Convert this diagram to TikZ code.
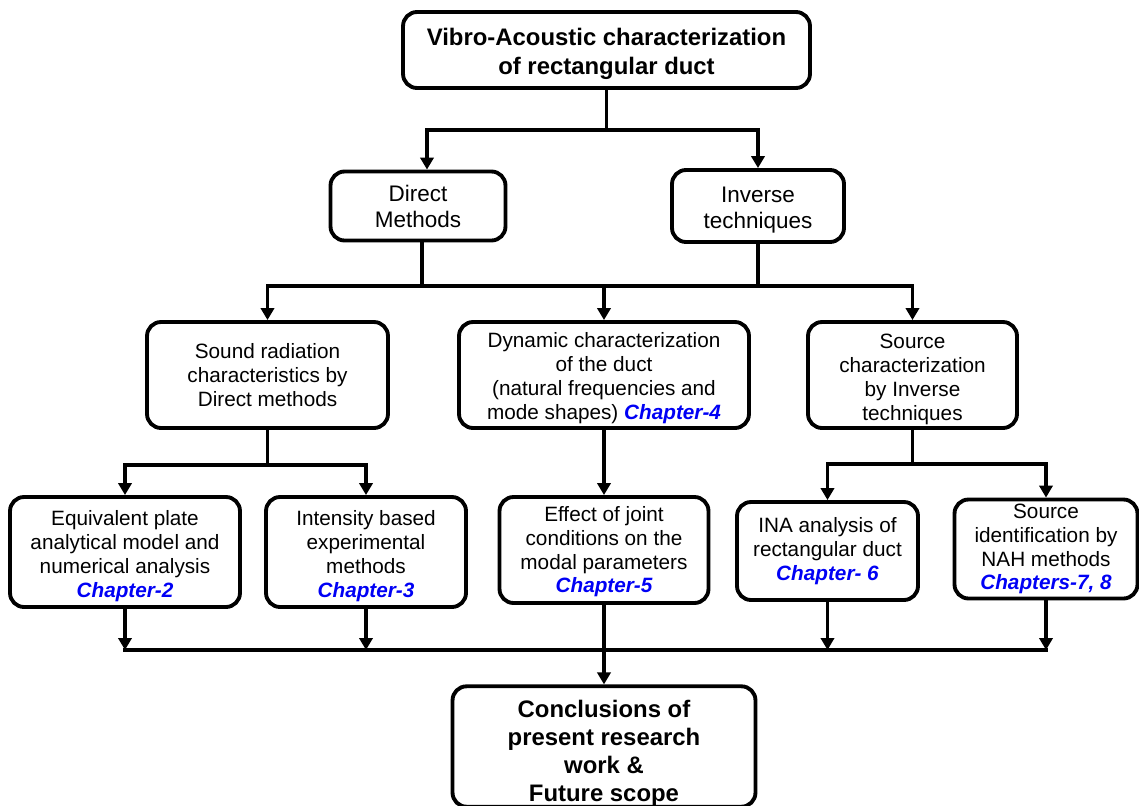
\documentclass[tikz,border=0pt]{standalone}
\usepackage{fontspec}
\setmainfont{Liberation Sans}
\usetikzlibrary{arrows.meta}
\definecolor{chapblue}{RGB}{0,0,245}
\newcommand{\chapl}[1]{{\color{chapblue}\bfseries\itshape #1}}
\newcommand{\upstrut}[1]{\rule{0pt}{#1}}
\begin{document}
\begin{tikzpicture}[x=0.02cm,y=-0.02cm,
  box/.style={draw=black,line width=2.2pt,rounded corners=0.28cm,fill=white,
    align=center,inner sep=0pt,font=\fontsize{11.8}{13.6}\selectfont},
  bigbox/.style={box,font=\fontsize{13.6}{16.5}\selectfont\bfseries},
  midbox/.style={box,font=\fontsize{12.8}{14.8}\selectfont},
  ln/.style={line width=1.9pt,line cap=rect},
  arr/.style={line width=1.9pt,-{Triangle[width=7.5pt,length=6.8pt]}}]
\useasboundingbox (0,0) rectangle (1139,805);
% boxes
\node[bigbox,minimum width=8.14cm,minimum height=1.52cm] (top) at (606.5,50)
  {\upstrut{14.4pt}Vibro-Acoustic characterization\\of rectangular duct};
\node[midbox,minimum width=3.5cm,minimum height=1.38cm] (dm) at (418,206) {Direct\\Methods};
\node[midbox,minimum width=3.44cm,minimum height=1.44cm] (im) at (758,206) {\upstrut{13.5pt}Inverse\\techniques};
\node[box,minimum width=4.82cm,minimum height=2.12cm] (sr) at (267.5,375)
  {Sound radiation\\characteristics by\\Direct methods};
\node[box,minimum width=5.8cm,minimum height=2.12cm] (dc) at (604,375)
  {\upstrut{12.5pt}Dynamic characterization\\of the duct\\(natural frequencies and\\mode shapes) \chapl{Chapter-4}};
\node[box,minimum width=4.18cm,minimum height=2.12cm] (sc) at (912.5,375)
  {\upstrut{13pt}Source\\characterization\\by Inverse\\techniques};
\node[box,minimum width=4.6cm,minimum height=2.2cm] (eq) at (125,552)
  {\upstrut{13pt}Equivalent plate\\analytical model and\\numerical analysis\\\chapl{Chapter-2}};
\node[box,minimum width=4.0cm,minimum height=2.2cm] (ib) at (366,552)
  {\upstrut{13pt}Intensity based\\experimental\\methods\\\chapl{Chapter-3}};
\node[box,minimum width=4.18cm,minimum height=2.12cm] (ef) at (604,550)
  {\upstrut{10.5pt}Effect of joint\\conditions on the\\modal parameters\\\chapl{Chapter-5}};
\node[box,minimum width=3.62cm,minimum height=1.96cm] (ina) at (827.5,551)
  {INA analysis of\\rectangular duct\\\chapl{Chapter- 6}};
\node[box,minimum width=3.66cm,minimum height=1.98cm] (nah) at (1046,549)
  {Source\\identification by\\NAH methods\\\chapl{Chapters-7, 8}};
\node[bigbox,font=\fontsize{13.6}{15.9}\selectfont\bfseries,minimum width=6.06cm,minimum height=2.26cm] (cc) at (604,746.5)
  {\upstrut{18pt}Conclusions of\\present research\\work \&\\Future scope};
% junction levels
\coordinate (j1) at (606,130);
\coordinate (j2) at (606,286);
\coordinate (j3) at (266,465);
\coordinate (j4) at (912,464);
\coordinate (j5) at (604,650);
\coordinate (dmin) at ([xshift=0.18cm]dm.north);
\coordinate (dmout) at ([xshift=0.08cm]dm.south);
% connectors
\draw[ln] (top.south) -- (top.south |- j1);
\draw[ln] (dmin |- j1) -- (im.north |- j1);
\draw[arr] (dmin |- j1) -- (dmin);
\draw[arr] (im.north |- j1) -- (im.north);
\draw[ln] (dmout) -- (dmout |- j2);
\draw[ln] (im.south) -- (im.south |- j2);
\draw[ln] (sr.north |- j2) -- (sc.north |- j2);
\draw[arr] (sr.north |- j2) -- (sr.north);
\draw[arr] (dc.north |- j2) -- (dc.north);
\draw[arr] (sc.north |- j2) -- (sc.north);
\draw[ln] (sr.south) -- (sr.south |- j3);
\draw[ln] (eq.north |- j3) -- (ib.north |- j3);
\draw[arr] (eq.north |- j3) -- (eq.north);
\draw[arr] (ib.north |- j3) -- (ib.north);
\draw[arr] (dc.south) -- (ef.north);
\draw[ln] (sc.south) -- (sc.south |- j4);
\draw[ln] (ina.north |- j4) -- (nah.north |- j4);
\draw[arr] (ina.north |- j4) -- (ina.north);
\draw[arr] (nah.north |- j4) -- (nah.north);
\draw[ln] (eq.south |- j5) -- (nah.south |- j5);
\draw[arr] (eq.south) -- (eq.south |- j5);
\draw[arr] (ib.south) -- (ib.south |- j5);
\draw[arr] (ina.south) -- (ina.south |- j5);
\draw[arr] (nah.south) -- (nah.south |- j5);
\draw[arr] (ef.south) -- (cc.north);
\end{tikzpicture}
\end{document}
